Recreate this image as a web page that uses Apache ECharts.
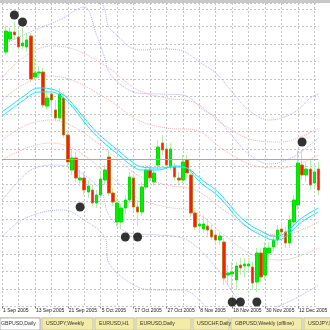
<!DOCTYPE html>
<html><head><meta charset="utf-8">
<script src="https://cdn.jsdelivr.net/npm/echarts@6/dist/echarts.min.js"></script>
<style>html,body{margin:0;padding:0;background:#fff}#c{width:330px;height:330px}</style>
</head><body><div id="c"></div>
<script>
// categories (index 0 is the partly hidden first day)
const dates = ["1 Sep 2005","2 Sep 2005","5 Sep 2005","6 Sep 2005","7 Sep 2005","8 Sep 2005","9 Sep 2005","12 Sep 2005",
"13 Sep 2005","14 Sep 2005","15 Sep 2005","16 Sep 2005","17 Sep 2005","18 Sep 2005","19 Sep 2005","20 Sep 2005",
"21 Sep 2005","22 Sep 2005","23 Sep 2005","26 Sep 2005","27 Sep 2005","28 Sep 2005","29 Sep 2005","30 Sep 2005",
"5 Oct 2005","6 Oct 2005","7 Oct 2005","10 Oct 2005","11 Oct 2005","12 Oct 2005","13 Oct 2005","14 Oct 2005",
"17 Oct 2005","18 Oct 2005","19 Oct 2005","20 Oct 2005","21 Oct 2005","24 Oct 2005","25 Oct 2005","26 Oct 2005",
"27 Oct 2005","28 Oct 2005","31 Oct 2005","1 Nov 2005","2 Nov 2005","3 Nov 2005","4 Nov 2005","7 Nov 2005",
"8 Nov 2005","9 Nov 2005","10 Nov 2005","11 Nov 2005","14 Nov 2005","15 Nov 2005","16 Nov 2005","17 Nov 2005",
"18 Nov 2005","21 Nov 2005","22 Nov 2005","23 Nov 2005","24 Nov 2005","25 Nov 2005","28 Nov 2005","29 Nov 2005",
"30 Nov 2005","1 Dec 2005","2 Dec 2005","5 Dec 2005","6 Dec 2005","7 Dec 2005","8 Dec 2005","9 Dec 2005",
"12 Dec 2005","13 Dec 2005","14 Dec 2005","15 Dec 2005","16 Dec 2005","19 Dec 2005"];

const opens  = [null,1.8335,1.8400,1.8435,1.8410,1.8365,1.8360,1.8415,1.8210,1.8230,1.8235,1.8065,1.8125,1.8045,1.8005,1.8105,1.7920,
1.7745,1.7805,1.7695,1.7705,1.7635,1.7645,1.7580,1.7620,1.7695,1.7810,1.7630,1.7485,1.7485,1.7555,1.7595,1.7705,1.7560,1.7535,
1.7660,1.7745,1.7685,1.7770,1.7880,1.7850,1.7760,1.7760,1.7705,1.7695,1.7795,1.7720,1.7530,1.7465,1.7450,1.7465,1.7445,1.7420,
1.7395,1.7385,1.7220,1.7225,1.7195,1.7270,1.7265,1.7265,1.7260,1.7185,1.7330,1.7220,1.7330,1.7360,1.7395,1.7450,1.7435,1.7380,
1.7485,1.7570,1.7770,1.7720,1.7750,1.7680,1.7750];
const closes = [null,1.8440,1.8435,1.8420,1.8360,1.8380,1.8395,1.8200,1.8230,1.8235,1.8070,1.8105,1.8095,1.8005,1.8125,1.7920,1.7785,
1.7805,1.7705,1.7705,1.7645,1.7665,1.7580,1.7620,1.7700,1.7745,1.7630,1.7585,1.7580,1.7555,1.7595,1.7710,1.7560,1.7535,1.7660,
1.7745,1.7705,1.7730,1.7860,1.7845,1.7770,1.7850,1.7710,1.7695,1.7785,1.7730,1.7530,1.7460,1.7475,1.7475,1.7445,1.7410,1.7395,
1.7415,1.7205,1.7230,1.7235,1.7265,1.7255,1.7275,1.7275,1.7180,1.7330,1.7210,1.7355,1.7355,1.7395,1.7445,1.7435,1.7380,1.7495,
1.7595,1.7780,1.7720,1.7750,1.7670,1.7735,1.7645];
const lows   = [null,1.8320,1.8385,1.8395,1.8345,1.8350,1.8335,1.8185,1.8195,1.8205,1.8055,1.8045,1.8035,1.7990,1.7990,1.7905,1.7765,
1.7720,1.7685,1.7665,1.7620,1.7605,1.7565,1.7555,1.7605,1.7670,1.7615,1.7565,1.7465,1.7455,1.7525,1.7580,1.7535,1.7465,1.7515,
1.7645,1.7685,1.7665,1.7745,1.7820,1.7755,1.7745,1.7695,1.7675,1.7680,1.7705,1.7510,1.7445,1.7435,1.7430,1.7415,1.7395,1.7375,
1.7370,1.7170,1.7170,1.7145,1.7145,1.7220,1.7205,1.7235,1.7145,1.7135,1.7185,1.7195,1.7305,1.7335,1.7370,1.7415,1.7355,1.7355,
1.7465,1.7545,1.7695,1.7685,1.7645,1.7655,1.7620];
const highs  = [null,1.8470,1.8460,1.8485,1.8445,1.8455,1.8430,1.8430,1.8305,1.8265,1.8255,1.8145,1.8155,1.8095,1.8155,1.8135,1.7945,
1.7845,1.7835,1.7745,1.7735,1.7695,1.7670,1.7645,1.7735,1.7770,1.7845,1.7655,1.7605,1.7575,1.7620,1.7735,1.7725,1.7595,1.7685,
1.7770,1.7770,1.7755,1.7895,1.7920,1.7870,1.7880,1.7780,1.7735,1.7820,1.7820,1.7745,1.7555,1.7505,1.7520,1.7495,1.7470,1.7445,
1.7435,1.7405,1.7270,1.7285,1.7285,1.7305,1.7305,1.7305,1.7285,1.7355,1.7355,1.7385,1.7385,1.7420,1.7470,1.7485,1.7460,1.7520,
1.7620,1.7845,1.7845,1.7785,1.7795,1.7770,1.7785];

// moving averages (pairs: category index, price)
const maFast = [[0,1.8035],[3,1.8080],[5,1.8110],[9,1.8155],[12,1.8150],[15,1.8120],[17,1.8080],[20,1.8005],[23,1.7935],[26,1.7880],
[29,1.7830],[31,1.7795],[34,1.7760],[38,1.7755],[42,1.7760],[45,1.7755],[47,1.7725],[49,1.7690],[52,1.7645],[55,1.7580],[57,1.7530],
[60,1.7475],[63,1.7440],[66,1.7415],[68,1.7420],[70,1.7450],[72,1.7490],[74,1.7520],[77,1.7555]];
const maSlow = [[0,1.8015],[3,1.8060],[5,1.8090],[9,1.8135],[12,1.8135],[15,1.8105],[17,1.8065],[20,1.7985],[23,1.7915],[26,1.7860],
[29,1.7810],[31,1.7775],[34,1.7745],[38,1.7745],[42,1.7765],[45,1.7755],[47,1.7710],[49,1.7670],[52,1.7625],[55,1.7560],[57,1.7510],
[60,1.7455],[63,1.7420],[66,1.7395],[68,1.7400],[70,1.7430],[72,1.7470],[74,1.7500],[77,1.7535]];
// envelope bands
const blueUpOuter = [[23,1.8645],[25,1.8545],[26,1.8460],[29,1.8400],[31,1.8360],[34,1.8345],[39,1.8350],[43,1.8345],[45,1.8330],
[48,1.8285],[52,1.8230],[56,1.8135],[60,1.8045],[65,1.7995],[68,1.8005],[72,1.8045],[75,1.8105],[77,1.8125]];
const blueUpInner = [[0,1.8370],[8,1.8445],[14,1.8495],[20,1.8560],[23,1.8420],[25,1.8305],[26,1.8235],[29,1.8170],[33,1.8130],
[38,1.8125],[44,1.8120],[47,1.8085],[49,1.8045],[52,1.8010],[56,1.7915],[60,1.7825],[65,1.7775],[68,1.7785],[72,1.7825],[77,1.7905]];
const pinkUpOuter = [[0,1.8205],[5,1.8305],[12,1.8365],[18,1.8345],[26,1.8255],[33,1.8145],[40,1.8105],[47,1.8080],[54,1.7970],
[61,1.7895],[68,1.7885],[77,1.7955]];
const pinkUpInner = [[0,1.8095],[5,1.8170],[11,1.8215],[17,1.8195],[26,1.8095],[33,1.7995],[40,1.7955],[47,1.7945],[54,1.7845],
[61,1.7770],[68,1.7755],[77,1.7820]];
const pinkLoInner = [[0,1.7895],[6,1.7970],[12,1.7995],[18,1.7955],[26,1.7835],[33,1.7720],[40,1.7670],[47,1.7645],[54,1.7545],
[61,1.7445],[68,1.7420],[77,1.7485]];
const pinkLoOuter = [[0,1.7795],[6,1.7855],[12,1.7880],[18,1.7845],[26,1.7720],[33,1.7605],[40,1.7560],[47,1.7535],[54,1.7420],
[61,1.7320],[68,1.7295],[77,1.7355]];
const blueLoInner = [[0,1.7595],[5,1.7710],[8,1.7755],[13,1.7770],[18,1.7745],[24,1.7645],[26,1.7520],[31,1.7430],[38,1.7420],
[45,1.7395],[52,1.7260],[57,1.7110],[61,1.7045],[68,1.7070],[77,1.7170]];
const blueLoOuter = [[0,1.7410],[4,1.7485],[10,1.7535],[15,1.7545],[20,1.7495],[25,1.7410],[26,1.7280],[33,1.7160],[38,1.7145],
[44,1.7145],[52,1.6995]];
// fractal marks
const fractals = [[3,1.8520],[5,1.8485],[19,1.7560],[30,1.7410],[33,1.7410],[56,1.7085],[58,1.7085],[62,1.7085],[73,1.7885]];
const priceLine = 1.7787;
const tabs = ["GBPUSD,Daily","USDJPY,Weekly","EURUSD,H1","EURUSD,Daily","USDCHF,Daily","GBPUSD,Weekly (offline)","USDJPY,Daily"];

const wickData = dates.map((d,i)=> opens[i]==null ? '-' : [opens[i],closes[i],lows[i],highs[i]]);
const bodyData = dates.map((d,i)=> opens[i]==null ? '-' : [opens[i],closes[i],Math.min(opens[i],closes[i]),Math.max(opens[i],closes[i])]);

function dotted(name,data,color){
  return {name,type:'line',data,symbol:'none',smooth:0.35,silent:true,z:3,
    lineStyle:{color,width:1,type:[1,1]}};
}
const gridGrey = '#c4c4c4';
const chart = echarts.init(document.getElementById('c'),null,{renderer:'canvas'});

const tabX = [0,41,94,135,192,230,303,360];
const graphics = [
  {type:'rect',shape:{x:0,y:0,width:330,height:3},style:{fill:'#c8c8c8'},z:100},
  {type:'rect',shape:{x:0,y:317,width:330,height:13},style:{fill:'#ece9d8'},z:100}
];
tabs.forEach((t,i)=>{
  const x0=tabX[i], x1=tabX[i+1];
  graphics.push({type:'rect',shape:{x:x0+(i?1:0),y:318,width:x1-x0-(i?2:1),height:12},
    style:{fill:i===0?'#ffffff':'#f3eca8',stroke:i===0?'#808080':'#b8b090',lineWidth:0.6},z:101});
  graphics.push({type:'text',x:x0+(i?5:1),y:324,style:{text:t,fill:'#333',fontSize:5.2,fontFamily:'Liberation Sans',
    verticalAlign:'middle',align:'left'},z:102});
});

chart.setOption({
  animation:false,
  backgroundColor:'#ffffff',
  grid:{left:-2.8,right:1.7,top:3,bottom:23.5,containLabel:false},
  xAxis:{type:'category',data:dates,boundaryGap:false,
    axisLine:{show:false},
    axisTick:{show:true,interval:(i)=>i%8===0,length:2,lineStyle:{color:'#777',width:1}},
    axisLabel:{interval:(i)=>i%8===0,align:'left',margin:2,fontSize:5,color:'#222',fontFamily:'Liberation Sans',padding:[0,0,0,1]},
    splitLine:{show:true,interval:(i)=>i%4===0,lineStyle:{color:gridGrey,type:[2,2],width:1}}},
  yAxis:{type:'value',min:1.70625,max:1.858,interval:0.00875,scale:true,
    axisLine:{show:false},axisTick:{show:false},axisLabel:{show:false},
    splitLine:{show:true,lineStyle:{color:gridGrey,type:[2,2],width:1}}},
  graphic:graphics,
  series:[
    {type:'candlestick',data:wickData,barWidth:1,z:2,silent:true,
      itemStyle:{color:'#b4f0a8',color0:'#b4f0a8',borderColor:'#b4f0a8',borderColor0:'#b4f0a8',borderWidth:1},
      markLine:{silent:true,symbol:'none',label:{show:false},lineStyle:{color:'#a8a8a8',type:'solid',width:1},data:[{yAxis:priceLine}]}},
    {type:'candlestick',data:bodyData,barWidth:3,z:4,silent:true,
      itemStyle:{color:'#00f000',color0:'#ff1a00',borderColor:'#00e000',borderColor0:'#c87020',borderWidth:1}},
    dotted('blueUpOuter',blueUpOuter,'#aeb0ee'),
    dotted('blueUpInner',blueUpInner,'#aeb0ee'),
    dotted('pinkUpOuter',pinkUpOuter,'#f5b0b0'),
    dotted('pinkUpInner',pinkUpInner,'#f5b0b0'),
    dotted('pinkLoInner',pinkLoInner,'#f5b0b0'),
    dotted('pinkLoOuter',pinkLoOuter,'#f5b0b0'),
    dotted('blueLoInner',blueLoInner,'#aeb0ee'),
    dotted('blueLoOuter',blueLoOuter,'#aeb0ee'),
    {name:'maFast',type:'line',data:maFast,symbol:'none',smooth:0.4,z:5,lineStyle:{color:'#18e4f4',width:1}},
    {name:'maSlow',type:'line',data:maSlow,symbol:'none',smooth:0.4,z:5,lineStyle:{color:'#18e4f4',width:1}},
    {name:'fractals',type:'scatter',data:fractals,symbol:'circle',symbolSize:9,z:6,itemStyle:{color:'#000'}}
  ]
});
</script></body></html>
